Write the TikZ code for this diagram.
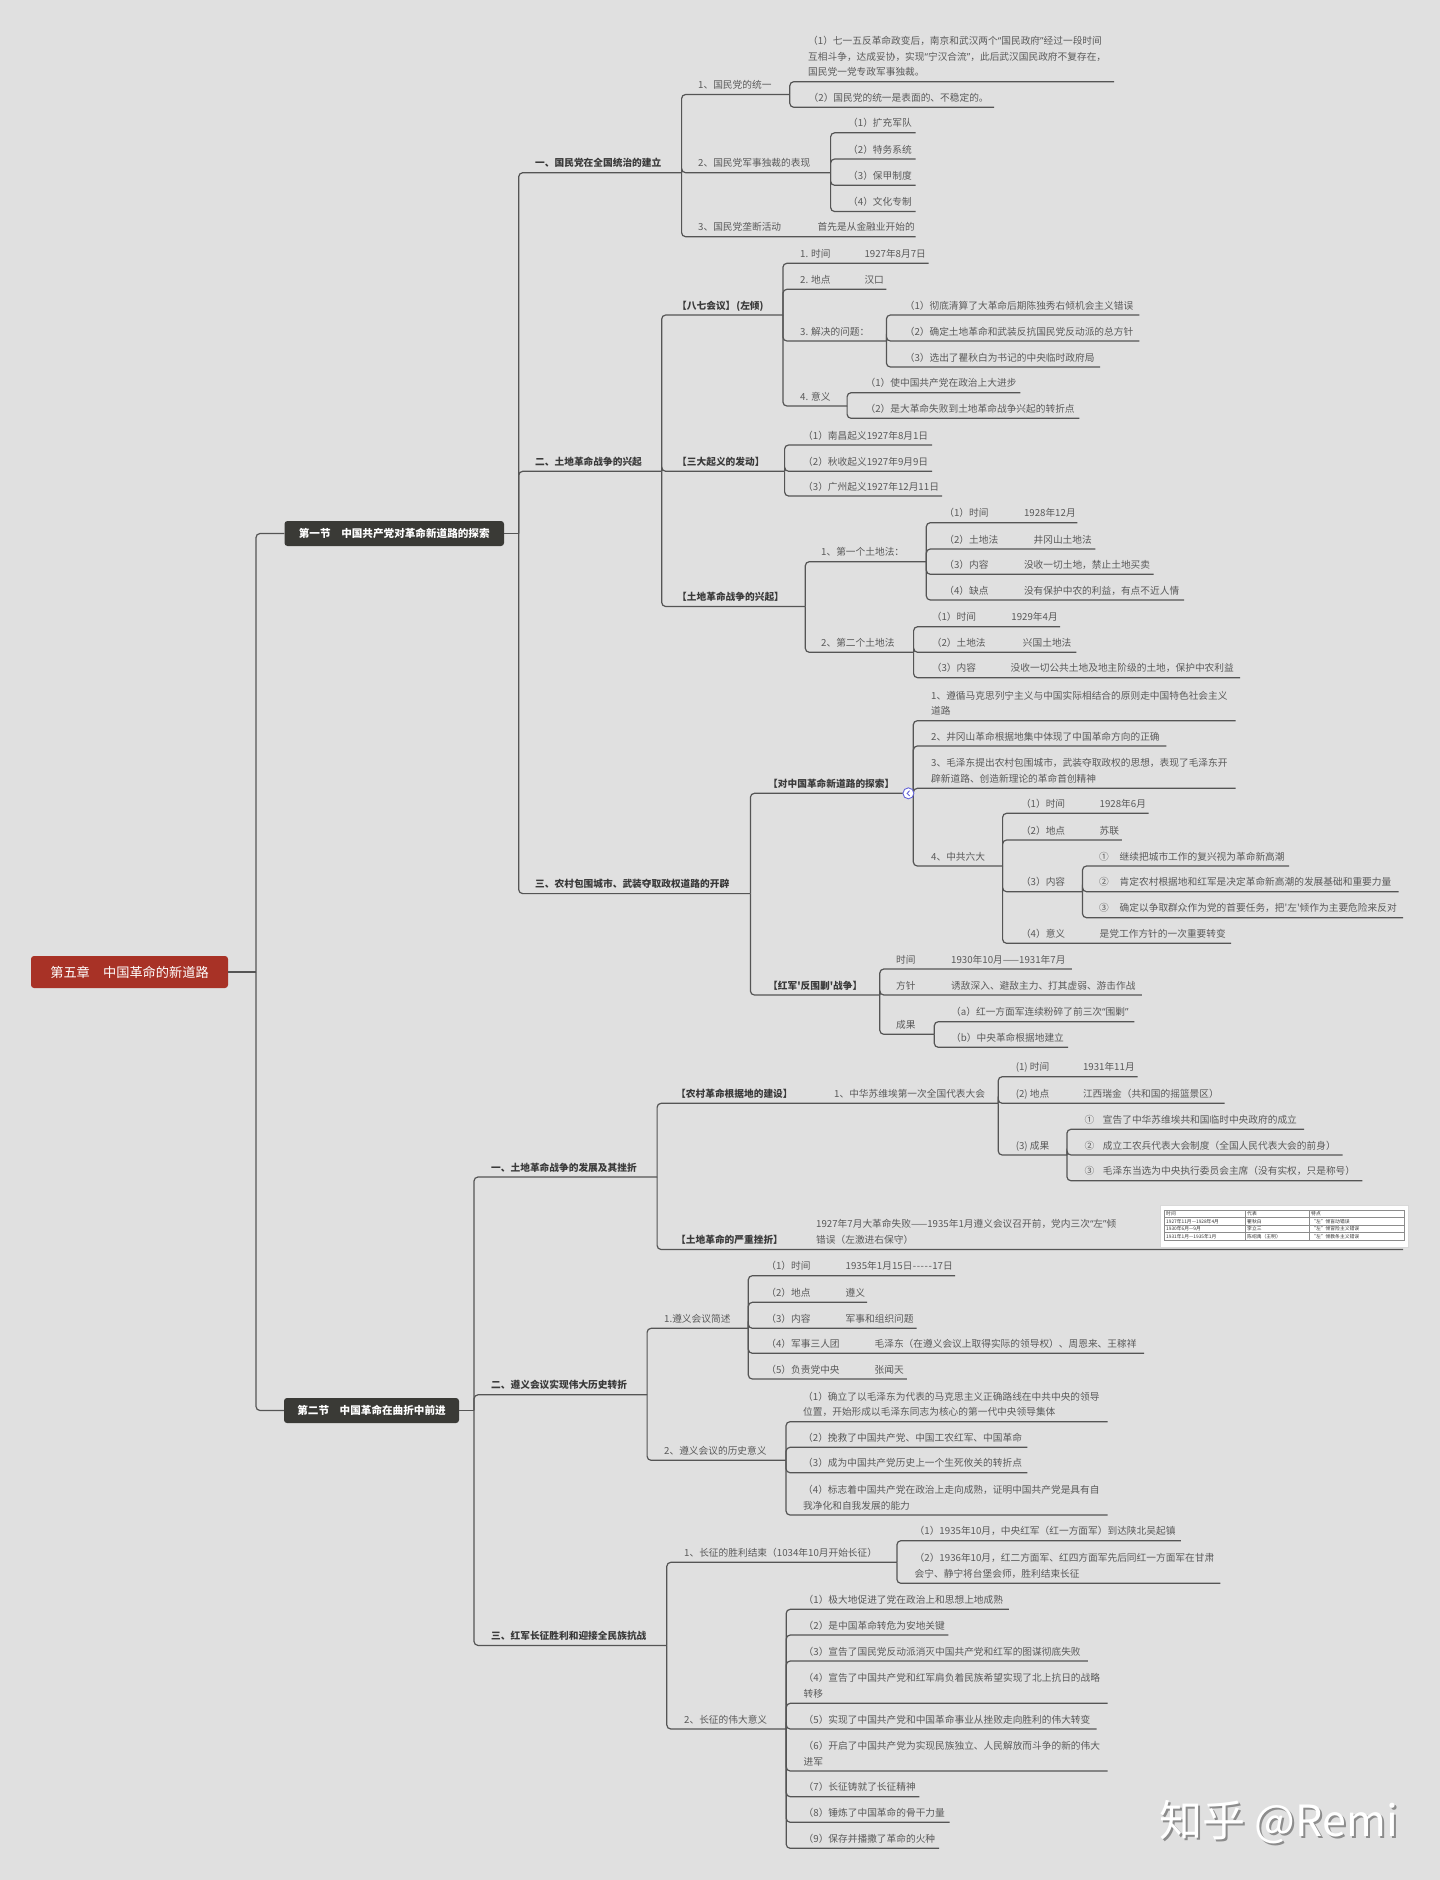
\documentclass[tikz,border=0pt]{standalone}
\usepackage{fontspec}
\newfontfamily\cjk{Noto Sans CJK SC}
\newfontfamily\latq{Noto Sans}
\newcommand\Lq{{\latq “}}
\newcommand\Rq{{\latq ”}}
\definecolor{bg}{HTML}{E0E0E0}
\definecolor{ln}{HTML}{555555}
\definecolor{tg}{HTML}{5A5A5A}
\definecolor{hd}{HTML}{3A3A3A}
\definecolor{rootred}{HTML}{A83226}
\definecolor{secdark}{HTML}{3A3A36}
\definecolor{markc}{HTML}{6464D8}
\tikzset{
 txt/.style={anchor=base west, inner sep=0pt, font=\cjk\fontsize{9.7}{11}\selectfont, text=tg},
 hdg/.style={anchor=base west, inner sep=0pt, font=\cjk\bfseries\fontsize{9.7}{11}\selectfont, text=hd},
 conn/.style={draw=ln, line width=1.2pt, rounded corners=4pt},
 rootbox/.style={fill=rootred, text=white, rounded corners=3pt, minimum width=197pt, minimum height=32pt, inner sep=0pt, font=\cjk\fontsize{13.2}{15}\selectfont},
 secbox/.style={fill=secdark, text=white, rounded corners=3pt, minimum height=25pt, inner sep=0pt, font=\cjk\bfseries\fontsize{10.6}{12}\selectfont},
 tab/.style={anchor=base west, inner sep=0pt, font=\cjk\fontsize{4.8}{5}\selectfont, text=black!80},
 wmk/.style={anchor=base west, inner sep=0pt, font=\cjk\fontsize{43}{46}\selectfont},
}
\newcommand\Itm[5]{\node[txt] (#1) at (#2,#3-6) {#5}; \coordinate (#1-e) at (#4,#3);}
\newcommand\Hdg[5]{\node[hdg] (#1) at (#2,#3-6) {#5}; \coordinate (#1-e) at (#4,#3);}
\newcommand\ItmV[7]{\node[txt] (#1) at (#2,#3-6) {#5}; \node[txt] (#1v) at (#6,#3-6) {#7}; \coordinate (#1-e) at (#4,#3);}
\newcommand\ItmII[6]{\node[txt] (#1) at (#2,#3-21.6) {#5}; \node[txt] (#1b) at (#2,#3-6) {#6}; \coordinate (#1-e) at (#4,#3);}
\newcommand\Con[2]{\draw[conn] (#1-e) |- (#2-e);}
\begin{document}
\begin{tikzpicture}[x=1pt,y=-1pt]
\fill[bg] (0,0) rectangle (1440,1880);
\useasboundingbox (0,0) rectangle (1440,1880);

% ---------- root and sections
\node[rootbox] (root) at (129.5,972) {第五章\hspace{1em}中国革命的新道路};
\node[secbox, minimum width=219.5pt] (s1) at (394.25,533.5) {第一节\hspace{1em}中国共产党对革命新道路的探索};
\node[secbox, minimum width=175pt] (s2) at (371.5,1410.5) {第二节\hspace{1em}中国革命在曲折中前进};
\coordinate (j0) at (256,972);
\coordinate (j1) at (518.7,533.5);
\coordinate (j2) at (474,1410.5);

% ---------- section 1
\Hdg{A}{535}{172.7}{681.6}{一、国民党在全国统治的建立}
\Hdg{B}{535}{471.3}{661.7}{二、土地革命战争的兴起}
\Hdg{C}{535}{893.6}{750.4}{三、农村包围城市、武装夺取政权道路的开辟}

\Itm{A1}{698}{94.5}{789.8}{1、国民党的统一}
\Itm{A2}{698}{172.7}{830.6}{2、国民党军事独裁的表现}
\Itm{A3}{698}{236.7}{915.5}{3、国民党垄断活动}
\node[txt] (A3c) at (817.5,230.7) {首先是从金融业开始的};

\node[txt] (A1a) at (808,44.5) {（1）七一五反革命政变后，南京和武汉两个\Lq 国民政府\Rq 经过一段时间};
\node[txt] (A1ab) at (808,60.1) {互相斗争，达成妥协，实现\Lq 宁汉合流\Rq ，此后武汉国民政府不复存在，};
\node[txt] (A1ac) at (808,75.7) {国民党一党专政军事独裁。};
\coordinate (A1a-e) at (1114,81.7);
\Itm{A1b}{808.5}{107.3}{994}{（2）国民党的统一是表面的、不稳定的。}

\Itm{A2a}{848}{132.8}{915.5}{（1）扩充军队}
\Itm{A2b}{848}{159}{915.5}{（2）特务系统}
\Itm{A2c}{848}{185.3}{915.5}{（3）保甲制度}
\Itm{A2d}{848}{211.5}{915.5}{（4）文化专制}

\Hdg{B1}{677}{315}{782.9}{【八七会议】\kern1pt(左倾)}
\Hdg{B2}{677}{471.3}{784.6}{【三大起义的发动】}
\Hdg{B3}{677}{606.5}{805.3}{【土地革命战争的兴起】}

\ItmV{B1a}{800}{263.3}{928.6}{1. 时间}{864.3}{1927年8月7日}
\ItmV{B1b}{800}{289.3}{886.4}{2. 地点}{864.3}{汉口}
\Itm{B1c}{800}{341}{886.4}{3. 解决的问题：}
\Itm{B1d}{800}{406}{847.1}{4. 意义}
\Itm{B1c1}{904.6}{315}{1139.3}{（1）彻底清算了大革命后期陈独秀右倾机会主义错误}
\Itm{B1c2}{904.6}{341}{1139.3}{（2）确定土地革命和武装反抗国民党反动派的总方针}
\Itm{B1c3}{904.6}{367}{1100}{（3）选出了瞿秋白为书记的中央临时政府局}
\Itm{B1d1}{865.4}{392.7}{1020.4}{（1）使中国共产党在政治上大进步}
\Itm{B1d2}{865.4}{418.3}{1079.3}{（2）是大革命失败到土地革命战争兴起的转折点}

\Itm{B2a}{803}{445}{932}{（1）南昌起义1927年8月1日}
\Itm{B2b}{803}{471.3}{932}{（2）秋收起义1927年9月9日}
\Itm{B2c}{803}{496}{942}{（3）广州起义1927年12月11日}

\Itm{B3a}{821}{561.7}{926.3}{1、第一个土地法：}
\Itm{B3b}{821}{652.3}{913.6}{2、第二个土地法}
\ItmV{B3a1}{944.2}{522.7}{1077.4}{（1）时间}{1023.8}{1928年12月}
\ItmV{B3a2}{944.2}{549}{1095.4}{（2）土地法}{1033.4}{井冈山土地法}
\ItmV{B3a3}{944.2}{574.3}{1153.6}{（3）内容}{1023.8}{没收一切土地，禁止土地买卖}
\ItmV{B3a4}{944.2}{600}{1184.2}{（4）缺点}{1023.8}{没有保护中农的利益，有点不近人情}
\ItmV{B3b1}{931.6}{626.7}{1060.2}{（1）时间}{1011.2}{1929年4月}
\ItmV{B3b2}{931.6}{652.3}{1076.3}{（2）土地法}{1022.7}{兴国土地法}
\ItmV{B3b3}{931.6}{677.7}{1240}{（3）内容}{1010.5}{没收一切公共土地及地主阶级的土地，保护中农利益}

\Hdg{C1}{768}{793.3}{913.3}{【对中国革命新道路的探索】}
\Hdg{C2}{768}{995}{879.8}{【红军'反围剿'战争】}
\ItmII{C1a}{931}{720.7}{1235.6}{1、遵循马克思列宁主义与中国实际相结合的原则走中国特色社会主义}{道路}
\Itm{C1b}{931}{746}{1166.4}{2、井冈山革命根据地集中体现了中国革命方向的正确}
\ItmII{C1c}{931}{788.3}{1235.6}{3、毛泽东提出农村包围城市，武装夺取政权的思想，表现了毛泽东开}{辟新道路、创造新理论的革命首创精神}
\Itm{C1d}{931}{866}{1002.6}{4、中共六大}
\ItmV{C1d1}{1020.8}{813.3}{1148.6}{（1）时间}{1099.5}{1928年6月}
\ItmV{C1d2}{1020.8}{840}{1121.8}{（2）地点}{1099.5}{苏联}
\Itm{C1d3}{1020.8}{891.7}{1082.5}{（3）内容}
\ItmV{C1d4}{1020.8}{943.3}{1231.2}{（4）意义}{1099.5}{是党工作方针的一次重要转变}
\ItmV{C1d3a}{1099}{866}{1289}{①}{1119.5}{继续把城市工作的复兴视为革命新高潮}
\ItmV{C1d3b}{1099}{891.7}{1398.6}{②}{1119.5}{肯定农村根据地和红军是决定革命新高潮的发展基础和重要力量}
\ItmV{C1d3c}{1099}{917.7}{1403}{③}{1119.5}{确定以争取群众作为党的首要任务，把'左'倾作为主要危险来反对}
\ItmV{C2a}{896}{969}{1071.8}{时间}{951}{1930年10月——1931年7月}
\ItmV{C2b}{896}{995}{1141.9}{方针}{951}{诱敌深入、避敌主力、打其虚弱、游击作战}
\Itm{C2c}{896}{1034.3}{934.3}{成果}
\Itm{C2c1}{951}{1021.7}{1134.3}{（a）红一方面军连续粉碎了前三次\Lq 围剿\Rq}
\Itm{C2c2}{951}{1047.3}{1068.2}{（b）中央革命根据地建立}

% ---------- section 2
\Hdg{D}{491}{1177}{657.1}{一、土地革命战争的发展及其挫折}
\Hdg{E}{491}{1394.8}{647.1}{二、遵义会议实现伟大历史转折}
\Hdg{F}{491}{1645.4}{666.8}{三、红军长征胜利和迎接全民族抗战}

\Hdg{D1}{676}{1103.3}{998.2}{【农村革命根据地的建设】}
\node[txt] (D1c) at (834,1097.3) {1、中华苏维埃第一次全国代表大会};
\Hdg{D2}{676}{1249.5}{1403}{【土地革命的严重挫折】}
\node[txt] (D2c) at (816,1227.5) {1927年7月大革命失败——1935年1月遵义会议召开前，党内三次\Lq 左\Rq 倾};
\node[txt] (D2d) at (816,1243.5) {错误（左激进右保守）};
\ItmV{D1a}{1015.6}{1076.7}{1137.5}{(1) 时间}{1082.8}{1931年11月}
\ItmV{D1b}{1015.6}{1103.3}{1224.6}{(2) 地点}{1082.8}{江西瑞金（共和国的摇篮景区）}
\Itm{D1x}{1015.6}{1155}{1066.9}{(3) 成果}
\ItmV{D1x1}{1084.5}{1129.3}{1304.2}{①}{1102.7}{宣告了中华苏维埃共和国临时中央政府的成立}
\ItmV{D1x2}{1084.5}{1155}{1342.5}{②}{1102.7}{成立工农兵代表大会制度（全国人民代表大会的前身）}
\ItmV{D1x3}{1084.5}{1180.7}{1362.4}{③}{1102.7}{毛泽东当选为中央执行委员会主席（没有实权，只是称号）}

\Itm{E1}{664}{1328.3}{748.3}{1.遵义会议简述}
\Itm{E2}{664}{1460.3}{786}{2、遵义会议的历史意义}
\ItmV{E1a}{766.2}{1275.7}{955}{（1）时间}{845.5}{1935年1月15日\kern0.3pt-\kern0.6pt-\kern0.6pt-\kern0.6pt-\kern0.6pt-\kern0.3pt17日}
\ItmV{E1b}{766.2}{1302.3}{867.2}{（2）地点}{845.5}{遵义}
\ItmV{E1c}{766.2}{1328.3}{916.7}{（3）内容}{845.5}{军事和组织问题}
\ItmV{E1d}{766.2}{1353.3}{1144}{（4）军事三人团}{874.4}{毛泽东（在遵义会议上取得实际的领导权）、周恩来、王稼祥}
\ItmV{E1e}{766.2}{1379}{906.8}{（5）负责党中央}{874.4}{张闻天}
\ItmII{E2a}{803}{1421.7}{1107.7}{（1）确立了以毛泽东为代表的马克思主义正确路线在中共中央的领导}{位置，开始形成以毛泽东同志为核心的第一代中央领导集体}
\Itm{E2b}{803}{1447.3}{1027.4}{（2）挽救了中国共产党、中国工农红军、中国革命}
\Itm{E2c}{803}{1472.7}{1027.4}{（3）成为中国共产党历史上一个生死攸关的转折点}
\ItmII{E2d}{803}{1515}{1107.7}{（4）标志着中国共产党在政治上走向成熟，证明中国共产党是具有自}{我净化和自我发展的能力}

\Itm{F1}{684}{1562.3}{896.9}{1、长征的胜利结束（1034年10月开始长征）}
\Itm{F2}{684}{1729}{786.2}{2、长征的伟大意义}
\Itm{F1a}{914.5}{1540.7}{1180.8}{（1）1935年10月，中央红军（红一方面军）到达陕北吴起镇}
\ItmII{F1b}{914.5}{1583.3}{1220.3}{（2）1936年10月，红二方面军、红四方面军先后同红一方面军在甘肃}{会宁、静宁将台堡会师，胜利结束长征}
\Itm{F2a}{803.5}{1609.3}{1008.8}{（1）极大地促进了党在政治上和思想上地成熟}
\Itm{F2b}{803.5}{1635}{948.3}{（2）是中国革命转危为安地关键}
\Itm{F2c}{803.5}{1661}{1087.9}{（3）宣告了国民党反动派消灭中国共产党和红军的图谋彻底失败}
\ItmII{F2d}{803.5}{1703.3}{1107.7}{（4）宣告了中国共产党和红军肩负着民族希望实现了北上抗日的战略}{转移}
\Itm{F2e}{803.5}{1729}{1096.6}{（5）实现了中国共产党和中国革命事业从挫败走向胜利的伟大转变}
\ItmII{F2f}{803.5}{1771}{1107.7}{（6）开启了中国共产党为实现民族独立、人民解放而斗争的新的伟大}{进军}
\Itm{F2g}{803.5}{1796.7}{919.4}{（7）长征铸就了长征精神}
\Itm{F2h}{803.5}{1822.3}{949.5}{（8）锤炼了中国革命的骨干力量}
\Itm{F2i}{803.5}{1848.3}{939.2}{（9）保存并播撒了革命的火种}

% ---------- connectors
\draw[conn] (root.east) -- (j0);
\draw[conn] (j0) |- (s1.west);
\draw[conn] (j0) |- (s2.west);
\draw[conn] (s1.east) -- (j1);
\draw[conn] (s2.east) -- (j2);
\draw[conn] (j1) |- (A-e); \draw[conn] (j1) |- (B-e); \draw[conn] (j1) |- (C-e);
\draw[conn] (j2) |- (D-e); \draw[conn] (j2) |- (E-e); \draw[conn] (j2) |- (F-e);
\Con{A}{A1}\Con{A}{A2}\Con{A}{A3}
\Con{A1}{A1a}\Con{A1}{A1b}
\Con{A2}{A2a}\Con{A2}{A2b}\Con{A2}{A2c}\Con{A2}{A2d}
\Con{B}{B1}\Con{B}{B2}\Con{B}{B3}
\Con{B1}{B1a}\Con{B1}{B1b}\Con{B1}{B1c}\Con{B1}{B1d}
\Con{B1c}{B1c1}\Con{B1c}{B1c2}\Con{B1c}{B1c3}
\Con{B1d}{B1d1}\Con{B1d}{B1d2}
\Con{B2}{B2a}\Con{B2}{B2b}\Con{B2}{B2c}
\Con{B3}{B3a}\Con{B3}{B3b}
\Con{B3a}{B3a1}\Con{B3a}{B3a2}\Con{B3a}{B3a3}\Con{B3a}{B3a4}
\Con{B3b}{B3b1}\Con{B3b}{B3b2}\Con{B3b}{B3b3}
\Con{C}{C1}\Con{C}{C2}
\Con{C1}{C1a}\Con{C1}{C1b}\Con{C1}{C1c}\Con{C1}{C1d}
\Con{C1d}{C1d1}\Con{C1d}{C1d2}\Con{C1d}{C1d3}\Con{C1d}{C1d4}
\Con{C1d3}{C1d3a}\Con{C1d3}{C1d3b}\Con{C1d3}{C1d3c}
\Con{C2}{C2a}\Con{C2}{C2b}\Con{C2}{C2c}
\Con{C2c}{C2c1}\Con{C2c}{C2c2}
\Con{D}{D1}\Con{D}{D2}
\Con{D1}{D1a}\Con{D1}{D1b}\Con{D1}{D1x}
\Con{D1x}{D1x1}\Con{D1x}{D1x2}\Con{D1x}{D1x3}
\Con{E}{E1}\Con{E}{E2}
\Con{E1}{E1a}\Con{E1}{E1b}\Con{E1}{E1c}\Con{E1}{E1d}\Con{E1}{E1e}
\Con{E2}{E2a}\Con{E2}{E2b}\Con{E2}{E2c}\Con{E2}{E2d}
\Con{F}{F1}\Con{F}{F2}
\Con{F1}{F1a}\Con{F1}{F1b}
\Con{F2}{F2a}\Con{F2}{F2b}\Con{F2}{F2c}\Con{F2}{F2d}\Con{F2}{F2e}\Con{F2}{F2f}\Con{F2}{F2g}\Con{F2}{F2h}\Con{F2}{F2i}

% ---------- collapse marker
\node[circle, draw=markc, fill=white, line width=0.9pt, minimum size=11pt, inner sep=0pt] (mk) at (908.4,793.3) {};
\draw[markc, line width=0.9pt] ([xshift=1.2pt,yshift=2.6pt]mk.center) -- ([xshift=-1.3pt]mk.center) -- ([xshift=1.2pt,yshift=-2.6pt]mk.center);

% ---------- small table image
\node[draw=black!15, fill=white, line width=0.6pt, minimum width=248pt, minimum height=42pt, inner sep=0pt, anchor=north west] (tbl) at (1160,1205) {};
\draw[black!45, line width=0.4pt] (1164,1210) rectangle (1404,1240);
\draw[black!45, line width=0.4pt] (1164,1217.5) -- (1404,1217.5) (1164,1225) -- (1404,1225) (1164,1232.5) -- (1404,1232.5);
\draw[black!45, line width=0.4pt] (1245,1210) -- (1245,1240) (1309,1210) -- (1309,1240);
\node[tab] (t11) at (1166,1215.5) {时间};
\node[tab] (t12) at (1247,1215.5) {代表};
\node[tab] (t13) at (1311,1215.5) {特点};
\node[tab] (t21) at (1166,1223) {1927年11月—1928年4月};
\node[tab] (t22) at (1247,1223) {瞿秋白};
\node[tab] (t23) at (1311,1223) {“左”倾盲动错误};
\node[tab] (t31) at (1166,1230.5) {1930年6月—9月};
\node[tab] (t32) at (1247,1230.5) {李立三};
\node[tab] (t33) at (1311,1230.5) {“左”倾冒险主义错误};
\node[tab] (t41) at (1166,1238) {1931年1月—1935年1月};
\node[tab] (t42) at (1247,1238) {陈绍禹（王明）};
\node[tab] (t43) at (1311,1238) {“左”倾教条主义错误};

% ---------- watermark
\node[wmk, text=black!45] (wms) at (1161,1838.5) {知乎 @Remi};
\node[wmk, text=white] (wm) at (1159,1836.5) {知乎 @Remi};
\end{tikzpicture}
\end{document}
